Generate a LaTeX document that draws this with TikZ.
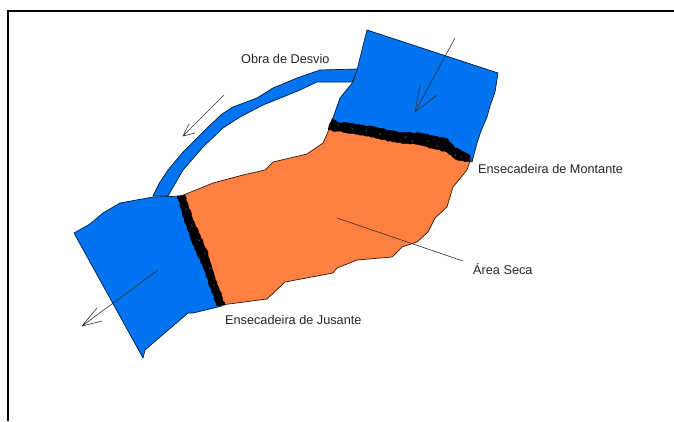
\documentclass[tikz,border=0pt]{standalone}
\usepackage{fontspec}
\setmainfont{Liberation Sans}
\usetikzlibrary{decorations.pathmorphing}
\definecolor{agua}{RGB}{0,115,240}
\definecolor{seco}{RGB}{255,128,64}
\tikzset{
  agualine/.style={fill=agua,draw=black!75!agua,line width=0.7pt,line join=round},
  secoline/.style={fill=seco,draw=black!80!seco,line width=0.7pt,line join=round},
  dam/.style={fill=black,draw=black,line width=0.4pt,decorate,decoration={random steps,segment length=2.5pt,amplitude=0.7pt}},
  speck/.style={fill=white,draw=none},
  pointer/.style={draw=black!80,line width=0.6pt,line cap=round,line join=round},
  rotulo/.style={font=\fontsize{12.7pt}{14pt}\selectfont,text=black!85,inner sep=0pt,anchor=west}
}
\begin{document}
\begin{tikzpicture}[x=1pt,y=-1pt]
\useasboundingbox (0,0) rectangle (674,421);
\fill[white] (0,0) rectangle (674,421);
\draw[black,line width=2pt] (8,421) -- (8,11) -- (674,11);
% canal
\path[agualine] (153,196) -- (160,182) -- (168,170) -- (183,152) -- (207,128) -- (222,114) -- (233,107) -- (257,98) -- (273,88) -- (297,78) -- (320,70) -- (358,69) -- (352,82) -- (317,82) -- (300,90) -- (283,97) -- (263,105) -- (240,117) -- (223,128) -- (203,147) -- (183,170) -- (168,196) -- cycle;
% montante
\path[agualine] (367,30) -- (498,73) -- (495,92) -- (490,106) -- (487,117) -- (481,131) -- (477,143) -- (472,162) -- (460,154) -- (448,146) -- (420,139) -- (397,137) -- (363,130) -- (330,125) -- (333,118) -- (340,98) -- (353,82) -- (357,70) -- (362,50) -- cycle;
% jusante
\path[agualine] (74,233) -- (90,224) -- (103,213) -- (120,203) -- (153,197) -- (186,196) -- (195,222) -- (206,250) -- (214,276) -- (222,306) -- (193,313) -- (188,313) -- (160,337) -- (145,350) -- (143,358) -- cycle;
% area seca
\path[secoline] (329,126) -- (328,132) -- (323,143) -- (307,154) -- (273,162) -- (265,170) -- (243,175) -- (213,183) -- (181,196) -- (189,219) -- (200,245) -- (210,272) -- (221,305) -- (267,299) -- (285,282) -- (333,273) -- (337,268) -- (357,260) -- (392,257) -- (402,247) -- (417,242) -- (428,232) -- (435,218) -- (447,207) -- (453,187) -- (467,170) -- (471,158) -- (448,146) -- (420,139) -- (397,137) -- (363,130) -- cycle;
% ensecadeiras
\path[dam] (332,118) -- (337,122) -- (363,125) -- (397,132) -- (420,133) -- (448,139) -- (455,148) -- (470,155) -- (470,162) -- (457,160) -- (447,152) -- (420,145) -- (393,142) -- (363,135) -- (328,130) -- cycle;
\path[dam] (177,196) -- (185,195) -- (193,220) -- (207,250) -- (215,277) -- (225,305) -- (217,306) -- (203,267) -- (191,240) -- (184,218) -- cycle;
\foreach \p in {(338,125),(352,129),(366,130),(380,134),(405,137),(412,141),(428,141),(437,146),(455,155),(461,157),(186,209),(192,226),(199,240),(205,253),(210,268),(214,285)}
  \fill[speck] \p circle (0.5pt);
% setas
\coordinate (a1) at (455,38); \coordinate (a2) at (415,112);
\draw[pointer] (a1) -- (a2) -- (420,85) (a2) -- (437,95);
\coordinate (b1) at (224,95); \coordinate (b2) at (183,136);
\draw[pointer] (b1) -- (b2) -- (189,124) (b2) -- (195,133);
\coordinate (c1) at (158,270); \coordinate (c2) at (82,326);
\draw[pointer] (c1) -- (c2) -- (97,308) (c2) -- (102,321);
% rotulos
\node[rotulo] (n1) at (241,59) {Obra de Desvio};
\node[rotulo] (n2) at (478,169) {Ensecadeira de Montante};
\node[rotulo] (n3) at (473,269) {Área Seca};
\node[rotulo] (n4) at (225,320) {Ensecadeira de Jusante};
\coordinate (d1) at (337,218); \coordinate (d2) at (463,261);
\draw[pointer] (d1) -- (d2);
\end{tikzpicture}
\end{document}
